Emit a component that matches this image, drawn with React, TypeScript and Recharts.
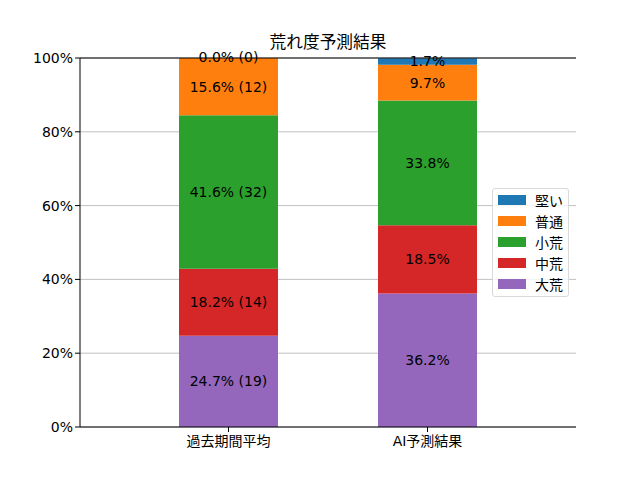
import React from "react";
import { BarChart, Bar, XAxis, YAxis, CartesianGrid, LabelList, ReferenceLine } from "recharts";

document.body.style.margin = "0";

const categories = ["過去期間平均", "AI予測結果"];
const daiare = [24.7, 36.2];
const chuare = [18.2, 18.5];
const shoare = [41.6, 33.8];
const futsu = [15.6, 9.7];
const katai = [0.0, 1.7];
// counts are shown only for the past-period bar
const daiareCounts = [19, null];
const chuareCounts = [14, null];
const shoareCounts = [32, null];
const futsuCounts = [12, null];
const kataiCounts = [0, null];
const yTicks = [0, 20, 40, 60, 80, 100];

const series = [
  { key: "daiare", name: "大荒", color: "#9467bd", values: daiare, counts: daiareCounts },
  { key: "chuare", name: "中荒", color: "#d62728", values: chuare, counts: chuareCounts },
  { key: "shoare", name: "小荒", color: "#2ca02c", values: shoare, counts: shoareCounts },
  { key: "futsu", name: "普通", color: "#ff7f0e", values: futsu, counts: futsuCounts },
  { key: "katai", name: "堅い", color: "#1f77b4", values: katai, counts: kataiCounts },
];

const data = categories.map((c, i) => {
  const row: Record<string, any> = { category: c };
  series.forEach((s) => {
    row[s.key] = s.values[i];
    const n = s.counts[i];
    row[s.key + "Label"] = `${s.values[i].toFixed(1)}%` + (n === null ? "" : ` (${n})`);
  });
  return row;
});

const FONT = "'DejaVu Sans', 'Noto Sans CJK JP', sans-serif";
const FS = 14;

function LegendBox() {
  const items = [...series].reverse();
  return (
    <div
      style={{
        position: "absolute",
        left: 492,
        top: 188,
        width: 77,
        height: 109,
        boxSizing: "border-box",
        background: "rgba(255,255,255,0.8)",
        border: "1px solid #d9d9d9",
        borderRadius: 3,
        padding: "0 0 0 5px",
        fontFamily: FONT,
        fontSize: FS,
      }}
    >
      {items.map((s) => (
        <div key={s.key} style={{ display: "flex", alignItems: "center", height: 21.2 }}>
          <span style={{ display: "inline-block", width: 28, height: 10, background: s.color, marginRight: 9 }} />
          <span style={{ color: "#000" }}>{s.name}</span>
        </div>
      ))}
    </div>
  );
}

export default function App() {
  return (
    <div style={{ position: "relative", width: 640, height: 480, background: "#fff", fontFamily: FONT }}>
      <div
        style={{
          position: "absolute",
          left: 80,
          width: 496,
          top: 31,
          textAlign: "center",
          fontSize: 16.7,
          lineHeight: "22px",
          color: "#000",
        }}
      >
        荒れ度予測結果
      </div>
      <BarChart width={640} height={480} data={data} margin={{ top: 58, right: 64, bottom: 23, left: 0 }}>
        <CartesianGrid vertical={false} stroke="#b0b0b0" strokeWidth={0.8} />
        <XAxis
          dataKey="category"
          height={30}
          padding={{ left: 49, right: 49 }}
          stroke="#000"
          tickSize={5}
          tickMargin={4}
          tick={{ fill: "#000", fontSize: FS }}
        />
        <YAxis
          width={80}
          domain={[0, 100]}
          ticks={yTicks}
          allowDataOverflow
          tickFormatter={(v) => `${v}%`}
          stroke="#000"
          tickSize={5}
          tick={{ fill: "#000", fontSize: FS }}
        />
        <YAxis yAxisId="right" orientation="right" width={0} tick={false} tickLine={false} stroke="#000" />
        <ReferenceLine y={100} stroke="#000" />
        {series.map((s) => (
          <Bar
            key={s.key}
            dataKey={s.key}
            name={s.name}
            stackId="a"
            fill={s.color}
            barSize={99}
            minPointSize={s.key === "katai" ? 1 : 0}
            isAnimationActive={false}
          >
            <LabelList dataKey={s.key + "Label"} position="center" fill="#000" fontSize={FS} />
          </Bar>
        ))}
      </BarChart>
      <LegendBox />
    </div>
  );
}
